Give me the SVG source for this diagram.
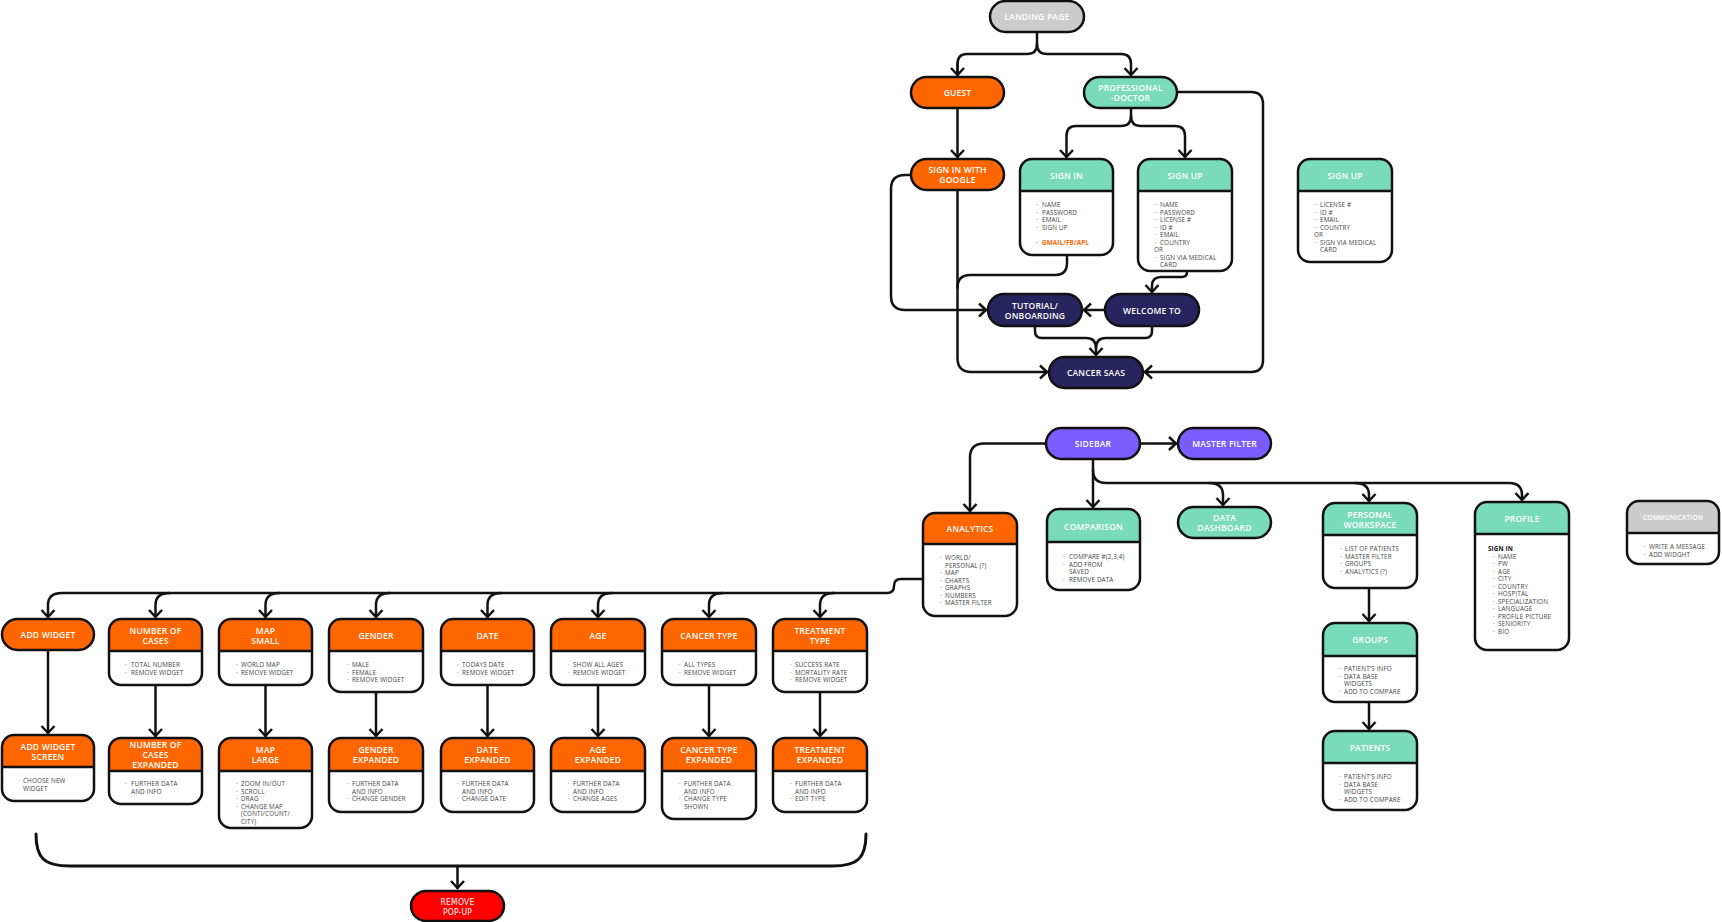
<svg xmlns="http://www.w3.org/2000/svg" width="1722" height="922" viewBox="0 0 1722 922">
<defs>
<style>
.fill{stroke:none}
.bo{fill:none;stroke:#111;stroke-width:2.5}
.pill{stroke:#111;stroke-width:2.5}
.dv{stroke:#111;stroke-width:2.5}
.c{fill:none;stroke:#111;stroke-width:2.5;stroke-linecap:round}
.a{marker-end:url(#ah)}
.h{font-family:"Open Sans","Liberation Sans",sans-serif;font-weight:600;font-size:8.5px;letter-spacing:0.2px;fill:#fff;text-anchor:middle;dominant-baseline:central}
.t{font-family:"Open Sans","Liberation Sans",sans-serif;font-size:6.3px;letter-spacing:0.15px;fill:#444;dominant-baseline:central}
.or{fill:#ff6600;font-weight:700}
.bk{fill:#111;font-weight:700}
.orange{fill:#ff6600}
.teal{fill:#79dbb9}
.navy{fill:#27245e}
.purple{fill:#7b5cff}
.grey{fill:#cccccc}
.red{fill:#ff0000}
.white{fill:#fff}
</style>
<marker id="ah" viewBox="-10 -10 20 20" refX="0" refY="0" markerWidth="20" markerHeight="20" markerUnits="userSpaceOnUse" orient="auto"><path d="M-7,-6.5 L0,0 L-7,6.5" fill="none" stroke="#111" stroke-width="2.5"/></marker>
</defs>
<rect width="1722" height="922" fill="#fff"/>

<g id="connectors">
<path class="c" d="M1037,32 V44 Q1037,54 1027,54 H967 Q957.5,54 957.5,64 V75"/>
<path class="c a" d="M957.5,64 V75"/>
<path class="c a" d="M1037,44 Q1037,54 1047,54 H1121 Q1131,54 1131,64 V75"/>
<path class="c a" d="M957.5,108 V157"/>
<path class="c a" d="M1131,108 V116 Q1131,126 1121,126 H1076 Q1066.5,126 1066.5,136 V157"/>
<path class="c a" d="M1131,116 Q1131,126 1141,126 H1175 Q1185,126 1185,136 V157"/>
<path class="c a" d="M1177,92 H1251 Q1263,92 1263,104 V360 Q1263,372 1251,372 H1145"/>
<path class="c a" d="M911,175 H905 Q891,175 891,189 V296 Q891,310 905,310 H986"/>
<path class="c a" d="M957.5,190 V358 Q957.5,372 971.5,372 H1047"/>
<path class="c" d="M1067,255 V263 Q1067,275 1055,275 H970 Q957.5,275 957.5,288"/>
<path class="c a" d="M1187,271 V272 Q1187,277 1182,277 H1161 Q1152,277 1152,286 V292"/>
<path class="c a" d="M1105,310 H1084"/>
<path class="c" d="M1035,326 V331 Q1035,338 1042,338 H1086 Q1096,338 1096,348"/>
<path class="c a" d="M1152,326 V331 Q1152,338 1145,338 H1106 Q1096,338 1096,348 V355"/>

<path class="c a" d="M1140,443.5 H1176"/>
<path class="c a" d="M1046,443.5 H984 Q970,443.5 970,457.5 V511"/>
<path class="c a" d="M1093,459 V507"/>
<path class="c a" d="M1093,470 Q1093,483 1106,483 H1509 Q1522,483 1522,495 V500"/>
<path class="c a" d="M1209,483 Q1223,483 1223,495 V505"/>
<path class="c a" d="M1355,483 Q1369,483 1369,495 V501"/>
<path class="c a" d="M1369,588 V621"/>
<path class="c a" d="M1369,702 V729"/>

<path class="c a" d="M923,579 H901 Q894,579 894,586 Q894,593 887,593 H62 Q48,593 48,605 V617"/>
<path class="c a" d="M169.5,593 Q155.5,593 155.5,605 V617"/>
<path class="c a" d="M279.5,593 Q265.5,593 265.5,605 V617"/>
<path class="c a" d="M390,593 Q376,593 376,605 V617"/>
<path class="c a" d="M501.5,593 Q487.5,593 487.5,605 V617"/>
<path class="c a" d="M612,593 Q598,593 598,605 V617"/>
<path class="c a" d="M723,593 Q709,593 709,605 V617"/>
<path class="c a" d="M834,593 Q820,593 820,605 V617"/>

<path class="c a" d="M48,650 V733"/>
<path class="c a" d="M155.5,685 V736"/>
<path class="c a" d="M265.5,685 V736"/>
<path class="c a" d="M376,692 V736"/>
<path class="c a" d="M487.5,685 V736"/>
<path class="c a" d="M598,685 V736"/>
<path class="c a" d="M709,685 V736"/>
<path class="c a" d="M820,692 V736"/>

<path class="c" style="stroke-width:3" d="M36,834 C36,858 44,866 70,866 H832 C858,866 866,858 866,834"/>
<path class="c a" d="M457.5,866 V888"/>
</g>

<g id="landing"><rect class="pill grey" x="990" y="1" width="94" height="31" rx="15.5"/><text class="h" x="1037" y="16.5">LANDING PAGE</text></g>
<g id="guest"><rect class="pill orange" x="911" y="77" width="93" height="31" rx="15.5"/><text class="h" x="957.5" y="92.5">GUEST</text></g>
<g id="professional"><rect class="pill teal" x="1084" y="77" width="93" height="31" rx="15.5"/><text class="h" x="1130.5" y="87.5">PROFESSIONAL</text><text class="h" x="1130.5" y="97.5">-DOCTOR</text></g>
<g id="google"><rect class="pill orange" x="911" y="159" width="93" height="31" rx="15.5"/><text class="h" x="957.5" y="169.5">SIGN IN WITH</text><text class="h" x="957.5" y="179.5">GOOGLE</text></g>

<g id="signin">
<rect class="white" x="1020" y="159" width="93" height="96" rx="12"/>
<path class="teal" d="M1020,191 V171 A12,12 0 0 1 1032,159 H1101 A12,12 0 0 1 1113,171 V191 Z"/>
<line class="dv" x1="1020" y1="191" x2="1113" y2="191"/>
<rect class="bo" x="1020" y="159" width="93" height="96" rx="12"/>
<text class="h" x="1066.5" y="175">SIGN IN</text>
<text class="t"><tspan x="1036" y="204">·</tspan><tspan x="1042">NAME</tspan><tspan x="1036" y="211.5">·</tspan><tspan x="1042">PASSWORD</tspan><tspan x="1036" y="219">·</tspan><tspan x="1042">EMAIL</tspan><tspan x="1036" y="226.5">·</tspan><tspan x="1042">SIGN UP</tspan></text>
<text class="t or"><tspan x="1036" y="241.5">·</tspan><tspan x="1042">GMAIL/FB/APL</tspan></text>
</g>

<g id="signup">
<rect class="white" x="1138" y="159" width="94" height="112" rx="12"/>
<path class="teal" d="M1138,191 V171 A12,12 0 0 1 1150,159 H1220 A12,12 0 0 1 1232,171 V191 Z"/>
<line class="dv" x1="1138" y1="191" x2="1232" y2="191"/>
<rect class="bo" x="1138" y="159" width="94" height="112" rx="12"/>
<text class="h" x="1185" y="175">SIGN UP</text>
<text class="t"><tspan x="1155" y="204">·</tspan><tspan x="1160">NAME</tspan><tspan x="1155" y="211.5">·</tspan><tspan x="1160">PASSWORD</tspan><tspan x="1155" y="219">·</tspan><tspan x="1160">LICENSE #</tspan><tspan x="1155" y="226.5">·</tspan><tspan x="1160">ID #</tspan><tspan x="1155" y="234">·</tspan><tspan x="1160">EMAIL</tspan><tspan x="1155" y="241.5">·</tspan><tspan x="1160">COUNTRY</tspan><tspan x="1154" y="249">OR</tspan><tspan x="1155" y="256.5">·</tspan><tspan x="1160">SIGN VIA MEDICAL</tspan><tspan x="1160" y="264">CARD</tspan></text>
</g>

<g id="signup2">
<rect class="white" x="1298" y="159" width="94" height="103" rx="12"/>
<path class="teal" d="M1298,191 V171 A12,12 0 0 1 1310,159 H1380 A12,12 0 0 1 1392,171 V191 Z"/>
<line class="dv" x1="1298" y1="191" x2="1392" y2="191"/>
<rect class="bo" x="1298" y="159" width="94" height="103" rx="12"/>
<text class="h" x="1345" y="175">SIGN UP</text>
<text class="t"><tspan x="1315" y="204">·</tspan><tspan x="1320">LICENSE #</tspan><tspan x="1315" y="211.5">·</tspan><tspan x="1320">ID #</tspan><tspan x="1315" y="219">·</tspan><tspan x="1320">EMAIL</tspan><tspan x="1315" y="226.5">·</tspan><tspan x="1320">COUNTRY</tspan><tspan x="1314" y="234">OR</tspan><tspan x="1315" y="241.5">·</tspan><tspan x="1320">SIGN VIA MEDICAL</tspan><tspan x="1320" y="249">CARD</tspan></text>
</g>

<g id="tutorial"><rect class="pill navy" x="988" y="294" width="94" height="32" rx="16"/><text class="h" x="1035" y="305">TUTORIAL/</text><text class="h" x="1035" y="315">ONBOARDING</text></g>
<g id="welcome"><rect class="pill navy" x="1105" y="294" width="94" height="32" rx="16"/><text class="h" x="1152" y="310">WELCOME TO</text></g>
<g id="cancersaas"><rect class="pill navy" x="1049" y="357" width="94" height="31" rx="15.5"/><text class="h" x="1096" y="372.5">CANCER SAAS</text></g>

<g id="sidebar"><rect class="pill purple" x="1046" y="428" width="94" height="31" rx="15.5"/><text class="h" x="1093" y="443.5">SIDEBAR</text></g>
<g id="masterfilter"><rect class="pill purple" x="1178" y="428" width="93" height="31" rx="15.5"/><text class="h" x="1224.5" y="443.5">MASTER FILTER</text></g>

<g id="analytics">
<rect class="white" x="923" y="513" width="94" height="103" rx="12"/>
<path class="orange" d="M923,544 V525 A12,12 0 0 1 935,513 H1005 A12,12 0 0 1 1017,525 V544 Z"/>
<line class="dv" x1="923" y1="544" x2="1017" y2="544"/>
<rect class="bo" x="923" y="513" width="94" height="103" rx="12"/>
<text class="h" x="970" y="528.5">ANALYTICS</text>
<text class="t"><tspan x="940" y="557">·</tspan><tspan x="945">WORLD/</tspan><tspan x="945" y="564.5">PERSONAL (?)</tspan><tspan x="940" y="572">·</tspan><tspan x="945">MAP</tspan><tspan x="940" y="579.5">·</tspan><tspan x="945">CHARTS</tspan><tspan x="940" y="587">·</tspan><tspan x="945">GRAPHS</tspan><tspan x="940" y="594.5">·</tspan><tspan x="945">NUMBERS</tspan><tspan x="940" y="602">·</tspan><tspan x="945">MASTER FILTER</tspan></text>
</g>

<g id="comparison">
<rect class="white" x="1047" y="509" width="93" height="81" rx="12"/>
<path class="teal" d="M1047,542 V521 A12,12 0 0 1 1059,509 H1128 A12,12 0 0 1 1140,521 V542 Z"/>
<line class="dv" x1="1047" y1="542" x2="1140" y2="542"/>
<rect class="bo" x="1047" y="509" width="93" height="81" rx="12"/>
<text class="h" x="1093.5" y="526">COMPARISON</text>
<text class="t"><tspan x="1063" y="556">·</tspan><tspan x="1069">COMPARE #(2,3,4)</tspan><tspan x="1063" y="563.5">·</tspan><tspan x="1069">ADD FROM</tspan><tspan x="1069" y="571">SAVED</tspan><tspan x="1063" y="578.5">·</tspan><tspan x="1069">REMOVE DATA</tspan></text>
</g>

<g id="datadashboard"><rect class="pill teal" x="1178" y="507" width="93" height="31" rx="15.5"/><text class="h" x="1224.5" y="517.5">DATA</text><text class="h" x="1224.5" y="527.5">DASHBOARD</text></g>

<g id="personalworkspace">
<rect class="white" x="1323" y="503" width="94" height="85" rx="12"/>
<path class="teal" d="M1323,535 V515 A12,12 0 0 1 1335,503 H1405 A12,12 0 0 1 1417,515 V535 Z"/>
<line class="dv" x1="1323" y1="535" x2="1417" y2="535"/>
<rect class="bo" x="1323" y="503" width="94" height="85" rx="12"/>
<text class="h" x="1370" y="514">PERSONAL</text><text class="h" x="1370" y="524">WORKSPACE</text>
<text class="t"><tspan x="1340" y="548">·</tspan><tspan x="1345">LIST OF PATIENTS</tspan><tspan x="1340" y="555.5">·</tspan><tspan x="1345">MASTER FILTER</tspan><tspan x="1340" y="563">·</tspan><tspan x="1345">GROUPS</tspan><tspan x="1340" y="570.5">·</tspan><tspan x="1345">ANALYTICS (?)</tspan></text>
</g>

<g id="profile">
<rect class="white" x="1475" y="502" width="94" height="148" rx="12"/>
<path class="teal" d="M1475,534 V514 A12,12 0 0 1 1487,502 H1557 A12,12 0 0 1 1569,514 V534 Z"/>
<line class="dv" x1="1475" y1="534" x2="1569" y2="534"/>
<rect class="bo" x="1475" y="502" width="94" height="148" rx="12"/>
<text class="h" x="1522" y="518">PROFILE</text>
<text class="t bk" x="1488" y="548">SIGN IN</text>
<text class="t"><tspan x="1493" y="555.5">·</tspan><tspan x="1498">NAME</tspan><tspan x="1493" y="563">·</tspan><tspan x="1498">PW</tspan><tspan x="1493" y="570.5">·</tspan><tspan x="1498">AGE</tspan><tspan x="1493" y="578">·</tspan><tspan x="1498">CITY</tspan><tspan x="1493" y="585.5">·</tspan><tspan x="1498">COUNTRY</tspan><tspan x="1493" y="593">·</tspan><tspan x="1498">HOSPITAL</tspan><tspan x="1493" y="600.5">·</tspan><tspan x="1498">SPECIALIZATION</tspan><tspan x="1493" y="608">·</tspan><tspan x="1498">LANGUAGE</tspan><tspan x="1493" y="615.5">·</tspan><tspan x="1498">PROFILE PICTURE</tspan><tspan x="1493" y="623">·</tspan><tspan x="1498">SENIORITY</tspan><tspan x="1493" y="630.5">·</tspan><tspan x="1498">BIO</tspan></text>
</g>

<g id="communication">
<rect class="white" x="1627" y="501" width="92" height="63" rx="12"/>
<path class="grey" d="M1627,533 V513 A12,12 0 0 1 1639,501 H1707 A12,12 0 0 1 1719,513 V533 Z"/>
<line class="dv" x1="1627" y1="533" x2="1719" y2="533"/>
<rect class="bo" x="1627" y="501" width="92" height="63" rx="12"/>
<text class="h" style="font-size:6.5px" x="1673" y="517">COMMUNICATION</text>
<text class="t"><tspan x="1644" y="546">·</tspan><tspan x="1649">WRITE A MESSAGE</tspan><tspan x="1644" y="553.5">·</tspan><tspan x="1649">ADD WIDGHT</tspan></text>
</g>

<g id="groups">
<rect class="white" x="1323" y="623" width="94" height="79" rx="12"/>
<path class="teal" d="M1323,656 V635 A12,12 0 0 1 1335,623 H1405 A12,12 0 0 1 1417,635 V656 Z"/>
<line class="dv" x1="1323" y1="656" x2="1417" y2="656"/>
<rect class="bo" x="1323" y="623" width="94" height="79" rx="12"/>
<text class="h" x="1370" y="639">GROUPS</text>
<text class="t"><tspan x="1339" y="668">·</tspan><tspan x="1344">PATIENT'S INFO</tspan><tspan x="1339" y="675.5">·</tspan><tspan x="1344">DATA BASE</tspan><tspan x="1344" y="683">WIDGETS</tspan><tspan x="1339" y="690.5">·</tspan><tspan x="1344">ADD TO COMPARE</tspan></text>
</g>

<g id="patients">
<rect class="white" x="1323" y="731" width="94" height="79" rx="12"/>
<path class="teal" d="M1323,763 V743 A12,12 0 0 1 1335,731 H1405 A12,12 0 0 1 1417,743 V763 Z"/>
<line class="dv" x1="1323" y1="763" x2="1417" y2="763"/>
<rect class="bo" x="1323" y="731" width="94" height="79" rx="12"/>
<text class="h" x="1370" y="747">PATIENTS</text>
<text class="t"><tspan x="1339" y="776">·</tspan><tspan x="1344">PATIENT'S INFO</tspan><tspan x="1339" y="783.5">·</tspan><tspan x="1344">DATA BASE</tspan><tspan x="1344" y="791">WIDGETS</tspan><tspan x="1339" y="798.5">·</tspan><tspan x="1344">ADD TO COMPARE</tspan></text>
</g>

<g id="addwidget"><rect class="pill orange" x="2" y="619" width="92" height="31" rx="15.5"/><text class="h" x="48" y="634.5">ADD WIDGET</text></g>

<g id="numberofcases">
<rect class="white" x="109" y="619" width="93" height="66" rx="12"/>
<path class="orange" d="M109,651 V631 A12,12 0 0 1 121,619 H190 A12,12 0 0 1 202,631 V651 Z"/>
<line class="dv" x1="109" y1="651" x2="202" y2="651"/>
<rect class="bo" x="109" y="619" width="93" height="66" rx="12"/>
<text class="h" x="155.5" y="630">NUMBER OF</text><text class="h" x="155.5" y="640">CASES</text>
<text class="t"><tspan x="125" y="664">·</tspan><tspan x="131">TOTAL NUMBER</tspan><tspan x="125" y="671.5">·</tspan><tspan x="131">REMOVE WIDGET</tspan></text>
</g>

<g id="mapsmall">
<rect class="white" x="219" y="619" width="93" height="66" rx="12"/>
<path class="orange" d="M219,651 V631 A12,12 0 0 1 231,619 H300 A12,12 0 0 1 312,631 V651 Z"/>
<line class="dv" x1="219" y1="651" x2="312" y2="651"/>
<rect class="bo" x="219" y="619" width="93" height="66" rx="12"/>
<text class="h" x="265.5" y="630">MAP</text><text class="h" x="265.5" y="640">SMALL</text>
<text class="t"><tspan x="236" y="664">·</tspan><tspan x="241">WORLD MAP</tspan><tspan x="236" y="671.5">·</tspan><tspan x="241">REMOVE WIDGET</tspan></text>
</g>

<g id="gender">
<rect class="white" x="329" y="619" width="94" height="73" rx="12"/>
<path class="orange" d="M329,651 V631 A12,12 0 0 1 341,619 H411 A12,12 0 0 1 423,631 V651 Z"/>
<line class="dv" x1="329" y1="651" x2="423" y2="651"/>
<rect class="bo" x="329" y="619" width="94" height="73" rx="12"/>
<text class="h" x="376" y="635">GENDER</text>
<text class="t"><tspan x="347" y="664">·</tspan><tspan x="352">MALE</tspan><tspan x="347" y="671.5">·</tspan><tspan x="352">FEMALE</tspan><tspan x="347" y="679">·</tspan><tspan x="352">REMOVE WIDGET</tspan></text>
</g>

<g id="date">
<rect class="white" x="441" y="619" width="93" height="66" rx="12"/>
<path class="orange" d="M441,651 V631 A12,12 0 0 1 453,619 H522 A12,12 0 0 1 534,631 V651 Z"/>
<line class="dv" x1="441" y1="651" x2="534" y2="651"/>
<rect class="bo" x="441" y="619" width="93" height="66" rx="12"/>
<text class="h" x="487.5" y="635">DATE</text>
<text class="t"><tspan x="457" y="664">·</tspan><tspan x="462">TODAYS DATE</tspan><tspan x="457" y="671.5">·</tspan><tspan x="462">REMOVE WIDGET</tspan></text>
</g>

<g id="age">
<rect class="white" x="551" y="619" width="94" height="66" rx="12"/>
<path class="orange" d="M551,651 V631 A12,12 0 0 1 563,619 H633 A12,12 0 0 1 645,631 V651 Z"/>
<line class="dv" x1="551" y1="651" x2="645" y2="651"/>
<rect class="bo" x="551" y="619" width="94" height="66" rx="12"/>
<text class="h" x="598" y="635">AGE</text>
<text class="t"><tspan x="568" y="664">·</tspan><tspan x="573">SHOW ALL AGES</tspan><tspan x="568" y="671.5">·</tspan><tspan x="573">REMOVE WIDGET</tspan></text>
</g>

<g id="cancertype">
<rect class="white" x="662" y="619" width="94" height="66" rx="12"/>
<path class="orange" d="M662,651 V631 A12,12 0 0 1 674,619 H744 A12,12 0 0 1 756,631 V651 Z"/>
<line class="dv" x1="662" y1="651" x2="756" y2="651"/>
<rect class="bo" x="662" y="619" width="94" height="66" rx="12"/>
<text class="h" x="709" y="635">CANCER TYPE</text>
<text class="t"><tspan x="679" y="664">·</tspan><tspan x="684">ALL TYPES</tspan><tspan x="679" y="671.5">·</tspan><tspan x="684">REMOVE WIDGET</tspan></text>
</g>

<g id="treatmenttype">
<rect class="white" x="773" y="619" width="94" height="73" rx="12"/>
<path class="orange" d="M773,651 V631 A12,12 0 0 1 785,619 H855 A12,12 0 0 1 867,631 V651 Z"/>
<line class="dv" x1="773" y1="651" x2="867" y2="651"/>
<rect class="bo" x="773" y="619" width="94" height="73" rx="12"/>
<text class="h" x="820" y="630">TREATMENT</text><text class="h" x="820" y="640">TYPE</text>
<text class="t"><tspan x="790" y="664">·</tspan><tspan x="795">SUCCESS RATE</tspan><tspan x="790" y="671.5">·</tspan><tspan x="795">MORTALITY RATE</tspan><tspan x="790" y="679">·</tspan><tspan x="795">REMOVE WIDGET</tspan></text>
</g>

<g id="addwidgetscreen">
<rect class="white" x="2" y="735" width="92" height="66" rx="12"/>
<path class="orange" d="M2,767 V747 A12,12 0 0 1 14,735 H82 A12,12 0 0 1 94,747 V767 Z"/>
<line class="dv" x1="2" y1="767" x2="94" y2="767"/>
<rect class="bo" x="2" y="735" width="92" height="66" rx="12"/>
<text class="h" x="48" y="746">ADD WIDGET</text><text class="h" x="48" y="756">SCREEN</text>
<text class="t"><tspan x="18" y="780">·</tspan><tspan x="23">CHOOSE NEW</tspan><tspan x="23" y="787.5">WIDGET</tspan></text>
</g>

<g id="numberofcasesexpanded">
<rect class="white" x="109" y="738" width="93" height="66" rx="12"/>
<path class="orange" d="M109,771 V750 A12,12 0 0 1 121,738 H190 A12,12 0 0 1 202,750 V771 Z"/>
<line class="dv" x1="109" y1="771" x2="202" y2="771"/>
<rect class="bo" x="109" y="738" width="93" height="66" rx="12"/>
<text class="h" x="155.5" y="744.5">NUMBER OF</text><text class="h" x="155.5" y="754.5">CASES</text><text class="h" x="155.5" y="764.5">EXPANDED</text>
<text class="t"><tspan x="125" y="783">·</tspan><tspan x="131">FURTHER DATA</tspan><tspan x="131" y="790.5">AND INFO</tspan></text>
</g>

<g id="maplarge">
<rect class="white" x="219" y="738" width="93" height="90" rx="12"/>
<path class="orange" d="M219,771 V750 A12,12 0 0 1 231,738 H300 A12,12 0 0 1 312,750 V771 Z"/>
<line class="dv" x1="219" y1="771" x2="312" y2="771"/>
<rect class="bo" x="219" y="738" width="93" height="90" rx="12"/>
<text class="h" x="265.5" y="749.5">MAP</text><text class="h" x="265.5" y="759.5">LARGE</text>
<text class="t"><tspan x="236" y="783">·</tspan><tspan x="241">ZOOM IN/OUT</tspan><tspan x="236" y="790.5">·</tspan><tspan x="241">SCROLL</tspan><tspan x="236" y="798">·</tspan><tspan x="241">DRAG</tspan><tspan x="236" y="805.5">·</tspan><tspan x="241">CHANGE MAP</tspan><tspan x="241" y="813">(CONTI/COUNT/</tspan><tspan x="241" y="820.5">CITY)</tspan></text>
</g>

<g id="genderexpanded">
<rect class="white" x="329" y="738" width="94" height="74" rx="12"/>
<path class="orange" d="M329,771 V750 A12,12 0 0 1 341,738 H411 A12,12 0 0 1 423,750 V771 Z"/>
<line class="dv" x1="329" y1="771" x2="423" y2="771"/>
<rect class="bo" x="329" y="738" width="94" height="74" rx="12"/>
<text class="h" x="376" y="749.5">GENDER</text><text class="h" x="376" y="759.5">EXPANDED</text>
<text class="t"><tspan x="347" y="783">·</tspan><tspan x="352">FURTHER DATA</tspan><tspan x="352" y="790.5">AND INFO</tspan><tspan x="347" y="798">·</tspan><tspan x="352">CHANGE GENDER</tspan></text>
</g>

<g id="dateexpanded">
<rect class="white" x="441" y="738" width="93" height="74" rx="12"/>
<path class="orange" d="M441,771 V750 A12,12 0 0 1 453,738 H522 A12,12 0 0 1 534,750 V771 Z"/>
<line class="dv" x1="441" y1="771" x2="534" y2="771"/>
<rect class="bo" x="441" y="738" width="93" height="74" rx="12"/>
<text class="h" x="487.5" y="749.5">DATE</text><text class="h" x="487.5" y="759.5">EXPANDED</text>
<text class="t"><tspan x="457" y="783">·</tspan><tspan x="462">FURTHER DATA</tspan><tspan x="462" y="790.5">AND INFO</tspan><tspan x="457" y="798">·</tspan><tspan x="462">CHANGE DATE</tspan></text>
</g>

<g id="ageexpanded">
<rect class="white" x="551" y="738" width="94" height="74" rx="12"/>
<path class="orange" d="M551,771 V750 A12,12 0 0 1 563,738 H633 A12,12 0 0 1 645,750 V771 Z"/>
<line class="dv" x1="551" y1="771" x2="645" y2="771"/>
<rect class="bo" x="551" y="738" width="94" height="74" rx="12"/>
<text class="h" x="598" y="749.5">AGE</text><text class="h" x="598" y="759.5">EXPANDED</text>
<text class="t"><tspan x="568" y="783">·</tspan><tspan x="573">FURTHER DATA</tspan><tspan x="573" y="790.5">AND INFO</tspan><tspan x="568" y="798">·</tspan><tspan x="573">CHANGE AGES</tspan></text>
</g>

<g id="cancertypeexpanded">
<rect class="white" x="662" y="738" width="94" height="81" rx="12"/>
<path class="orange" d="M662,771 V750 A12,12 0 0 1 674,738 H744 A12,12 0 0 1 756,750 V771 Z"/>
<line class="dv" x1="662" y1="771" x2="756" y2="771"/>
<rect class="bo" x="662" y="738" width="94" height="81" rx="12"/>
<text class="h" x="709" y="749.5">CANCER TYPE</text><text class="h" x="709" y="759.5">EXPANDED</text>
<text class="t"><tspan x="679" y="783">·</tspan><tspan x="684">FURTHER DATA</tspan><tspan x="684" y="790.5">AND INFO</tspan><tspan x="679" y="798">·</tspan><tspan x="684">CHANGE TYPE</tspan><tspan x="684" y="805.5">SHOWN</tspan></text>
</g>

<g id="treatmentexpanded">
<rect class="white" x="773" y="738" width="94" height="74" rx="12"/>
<path class="orange" d="M773,771 V750 A12,12 0 0 1 785,738 H855 A12,12 0 0 1 867,750 V771 Z"/>
<line class="dv" x1="773" y1="771" x2="867" y2="771"/>
<rect class="bo" x="773" y="738" width="94" height="74" rx="12"/>
<text class="h" x="820" y="749.5">TREATMENT</text><text class="h" x="820" y="759.5">EXPANDED</text>
<text class="t"><tspan x="790" y="783">·</tspan><tspan x="795">FURTHER DATA</tspan><tspan x="795" y="790.5">AND INFO</tspan><tspan x="790" y="798">·</tspan><tspan x="795">EDIT TYPE</tspan></text>
</g>

<g id="removepopup"><rect class="pill red" x="411" y="891" width="93" height="30" rx="15"/><text class="h" style="font-family:'Liberation Sans Narrow','DejaVu Sans Condensed',sans-serif;font-weight:400" x="457.5" y="902">REMOVE</text><text class="h" style="font-family:'Liberation Sans Narrow','DejaVu Sans Condensed',sans-serif;font-weight:400" x="457.5" y="911.5">POP-UP</text></g>
</svg>
